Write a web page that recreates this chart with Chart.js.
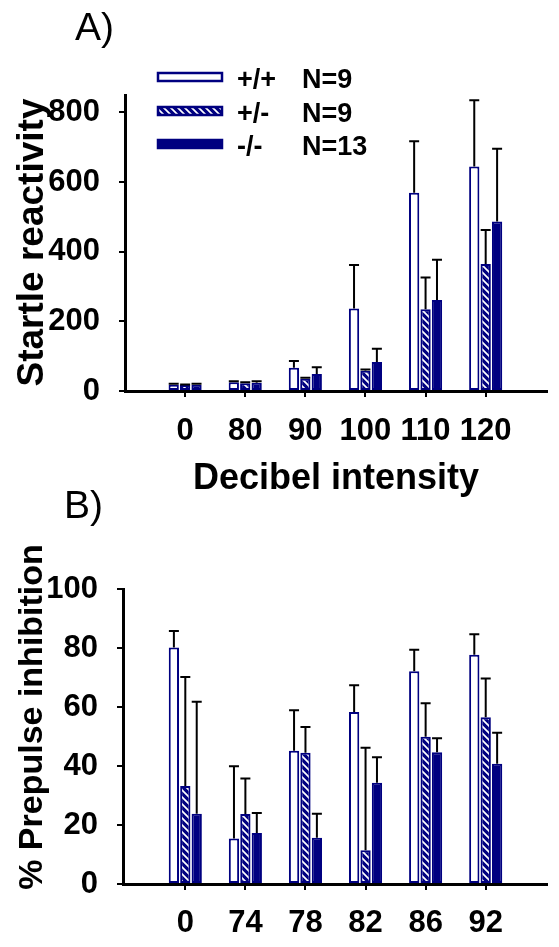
<!DOCTYPE html>
<html>
<head>
<meta charset="utf-8">
<script src="https://cdn.jsdelivr.net/npm/chart.js@4.4.1/dist/chart.umd.min.js"></script>
<style>
  body { margin: 0; background: #fff; }
  #wrap { position: relative; width: 559px; height: 947px; }
  canvas { position: absolute; left: 0; }
</style>
</head>
<body>
<div id="wrap">
  <canvas id="startle" width="559" height="505" style="top:0"></canvas>
  <canvas id="ppi" width="559" height="472" style="top:475px"></canvas>
</div>
<script>
// genotype groups
const seriesNames = ['+/+', '+/-', '-/-'];
const seriesN = ['N=9', 'N=9', 'N=13'];

// A) startle amplitude by decibel level
const dbLabels = ['0', '80', '90', '100', '110', '120'];
const startleWT = [18, 25, 67, 237, 569, 645];
const startleWTErr = [3, 3, 19, 125, 148, 190];
const startleHet = [17, 22, 35, 58, 235, 365];
const startleHetErr = [2, 3, 3, 4, 91, 97];
const startleKO = [18, 24, 49, 83, 261, 487];
const startleKOErr = [3, 4, 19, 38, 116, 209];
const startleTicks = [0, 200, 400, 600, 800];

// B) prepulse inhibition by prepulse level
const ppLabels = ['0', '74', '78', '82', '86', '92'];
const ppiWT = [80.2, 15.4, 45.2, 58.3, 72.1, 77.7];
const ppiWTErr = [5.6, 24.5, 13.7, 9.1, 7.3, 7.0];
const ppiHet = [33.2, 23.7, 44.5, 11.4, 49.9, 56.5];
const ppiHetErr = [37.0, 12.1, 8.7, 34.8, 11.4, 13.2];
const ppiKO = [23.8, 17.3, 15.7, 34.3, 44.7, 40.8];
const ppiKOErr = [38.0, 6.8, 8.1, 8.7, 4.7, 10.5];
const ppiTicks = [0, 20, 40, 60, 80, 100];

const navy = '#000080';
const FONT = '"Liberation Sans", Arial, sans-serif';
Chart.defaults.font.family = FONT;
Chart.defaults.color = '#000';

// white diagonal stripes on navy
function makeHatch() {
  const s = 7;
  const c = document.createElement('canvas');
  c.width = s; c.height = s;
  const g = c.getContext('2d');
  g.fillStyle = navy;
  g.fillRect(0, 0, s, s);
  g.strokeStyle = '#fff';
  g.lineWidth = 1.7;
  g.beginPath();
  for (let k = -s; k <= s; k += s) {
    g.moveTo(k - 1, -1);
    g.lineTo(k + s + 1, s + 1);
  }
  g.stroke();
  return g.createPattern(c, 'repeat');
}
const hatch = makeHatch();
const fills = ['#fff', hatch, navy];

function makeDatasets(values, errs) {
  return values.map((vals, s) => ({
    label: seriesNames[s],
    data: vals.map((v, i) => ({ x: i, y: v })),
    errors: errs[s],
    backgroundColor: fills[s],
    borderColor: navy,
    borderWidth: 2,
    borderSkipped: false,
    categoryPercentage: 0.57,
    barPercentage: 0.9
  }));
}

const errorBars = {
  id: 'errorBars',
  afterDatasetsDraw(chart) {
    const ctx = chart.ctx, y = chart.scales.y;
    ctx.save();
    ctx.strokeStyle = '#000';
    ctx.lineWidth = 2;
    chart.data.datasets.forEach((ds, i) => {
      chart.getDatasetMeta(i).data.forEach((bar, j) => {
        const top = y.getPixelForValue(ds.data[j].y + ds.errors[j]);
        ctx.beginPath();
        ctx.moveTo(bar.x, bar.y);
        ctx.lineTo(bar.x, top);
        ctx.moveTo(bar.x - 5, top);
        ctx.lineTo(bar.x + 5, top);
        ctx.stroke();
      });
    });
    ctx.restore();
  }
};

function freeText(items) {
  return {
    id: 'freeText',
    afterDraw(chart) {
      const ctx = chart.ctx;
      items.forEach(t => {
        ctx.save();
        ctx.translate(t.x, t.y);
        ctx.rotate(t.angle || 0);
        ctx.font = t.font;
        ctx.fillStyle = '#000';
        ctx.textAlign = t.align || 'left';
        ctx.textBaseline = t.baseline || 'alphabetic';
        ctx.fillText(t.text, 0, 0);
        ctx.restore();
      });
    }
  };
}

// legend sits inside the top plot
const boxLegend = {
  id: 'boxLegend',
  afterDraw(chart) {
    const ctx = chart.ctx;
    const tops = [72, 106, 139];
    ctx.save();
    chart.data.datasets.forEach((ds, i) => {
      const y = tops[i];
      ctx.fillStyle = ds.backgroundColor;
      ctx.fillRect(157, y, 66, 10);
      ctx.strokeStyle = navy;
      ctx.lineWidth = 2.5;
      ctx.strokeRect(158, y + 1, 64, 8);
      ctx.fillStyle = '#000';
      ctx.font = 'bold 27px ' + FONT;
      ctx.textBaseline = 'alphabetic';
      ctx.fillText(ds.label, 237, y + 16);
      ctx.fillText(seriesN[i], 302, y + 16);
    });
    ctx.restore();
  }
};

function makeScales(labels, ticks, xMin, yMax, xHeight, yWidth, xTitle, labelPad) {
  const tickFont = { size: 31, weight: 'bold' };
  return {
    x: {
      type: 'linear',
      min: xMin,
      max: 6.02,
      offset: false,
      border: { color: '#000', width: 3 },
      grid: { offset: false, drawOnChartArea: false, color: '#000', lineWidth: 2, tickLength: 6 },
      ticks: { font: tickFont, color: '#000', padding: labelPad, maxRotation: 0, callback: v => labels[v] },
      afterBuildTicks: s => { s.ticks = labels.map((_, i) => ({ value: i })); },
      afterFit: s => { s.height = xHeight; },
      title: xTitle ? {
        display: true, text: xTitle, color: '#000',
        font: { size: 36, weight: 'bold' }, padding: { top: 0, bottom: 4 }
      } : { display: false }
    },
    y: {
      min: 0,
      max: yMax,
      border: { color: '#000', width: 3 },
      grid: { drawOnChartArea: false, color: '#000', lineWidth: 2, tickLength: 6 },
      ticks: { font: tickFont, color: '#000', padding: 19 },
      afterBuildTicks: s => { s.ticks = ticks.map(v => ({ value: v })); },
      afterFit: s => { s.width = yWidth; }
    }
  };
}

new Chart(document.getElementById('startle'), {
  type: 'bar',
  data: {
    datasets: makeDatasets([startleWT, startleHet, startleKO], [startleWTErr, startleHetErr, startleKOErr])
  },
  options: {
    responsive: false,
    animation: false,
    layout: { padding: { top: 95, right: 12, left: 0, bottom: 0 } },
    plugins: { legend: { display: false }, tooltip: { enabled: false } },
    scales: makeScales(dbLabels, startleTicks, -1.0, 850, 114, 125, 'Decibel intensity', 16)
  },
  plugins: [errorBars, boxLegend, freeText([
    { text: 'A)', x: 75, y: 40, font: '39px ' + FONT },
    { text: 'Startle reactivity', x: 33, y: 242.5, angle: -Math.PI / 2,
      font: 'bold 37px ' + FONT, align: 'center', baseline: 'middle' }
  ])]
});

new Chart(document.getElementById('ppi'), {
  type: 'bar',
  data: {
    datasets: makeDatasets([ppiWT, ppiHet, ppiKO], [ppiWTErr, ppiHetErr, ppiKOErr])
  },
  options: {
    responsive: false,
    animation: false,
    layout: { padding: { top: 114, right: 12, left: 0, bottom: 0 } },
    plugins: { legend: { display: false }, tooltip: { enabled: false } },
    scales: makeScales(ppLabels, ppiTicks, -1.037, 100, 63, 123, null, 15)
  },
  plugins: [errorBars, freeText([
    { text: 'B)', x: 64, y: 43, font: '39px ' + FONT },
    { text: '% Prepulse inhibition', x: 33, y: 242, angle: -Math.PI / 2,
      font: 'bold 34px ' + FONT, align: 'center', baseline: 'middle' }
  ])]
});
</script>
</body>
</html>
